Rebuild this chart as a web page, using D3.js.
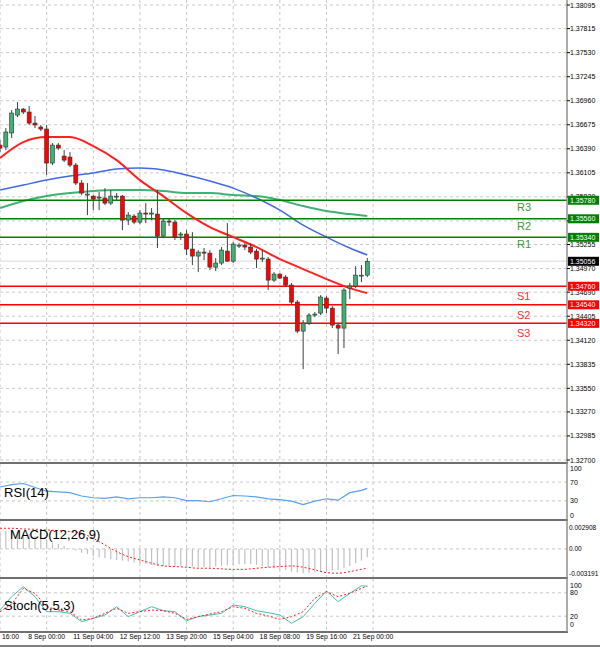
<!DOCTYPE html>
<html><head><meta charset="utf-8">
<script src="https://cdn.jsdelivr.net/npm/d3@7"></script>
<style>body{margin:0;background:#fff}svg{display:block;font-family:"Liberation Sans",Arial,sans-serif}</style>
</head><body><svg id="c" width="600" height="647"></svg>
<script>
// OHLC (4H candles)
const candles = [
[1.36434,1.36494,1.36351,1.36399],[1.36411,1.36636,1.36375,1.36589],[1.36577,1.36849,1.36517,1.36814],[1.36790,1.36944,1.36766,1.36861],
[1.36861,1.36873,1.36802,1.36826],[1.36826,1.36897,1.36672,1.36695],[1.36695,1.36778,1.36636,1.36672],[1.36648,1.36672,1.36600,1.36624],
[1.36624,1.36672,1.36079,1.36221],[1.36221,1.36458,1.36197,1.36434],[1.36434,1.36458,1.36375,1.36399],[1.36304,1.36375,1.36233,1.36256],
[1.36292,1.36351,1.36173,1.36197],[1.36197,1.36221,1.35960,1.35984],[1.35984,1.36019,1.35841,1.35865],[1.35841,1.35984,1.35604,1.35853],
[1.35829,1.35841,1.35663,1.35794],[1.35806,1.35877,1.35663,1.35818],[1.35806,1.35924,1.35723,1.35746],[1.35746,1.35901,1.35723,1.35829],
[1.35818,1.35865,1.35782,1.35829],[1.35829,1.35841,1.35426,1.35545],[1.35545,1.35640,1.35486,1.35604],[1.35592,1.35616,1.35497,1.35521],
[1.35521,1.35663,1.35497,1.35628],[1.35628,1.35746,1.35509,1.35616],[1.35616,1.35687,1.35545,1.35628],[1.35616,1.35901,1.35213,1.35355],
[1.35355,1.35569,1.35331,1.35533],[1.35533,1.35569,1.35474,1.35521],[1.35521,1.35545,1.35308,1.35343],[1.35367,1.35403,1.35308,1.35379],
[1.35379,1.35426,1.35130,1.35201],[1.35201,1.35403,1.35011,1.35118],[1.35118,1.35189,1.34928,1.35165],[1.35165,1.35213,1.35070,1.35153],
[1.35153,1.35189,1.34952,1.34987],[1.34987,1.35094,1.34940,1.35035],[1.35035,1.35225,1.35011,1.35189],[1.35177,1.35509,1.35047,1.35058],
[1.35058,1.35284,1.35035,1.35260],[1.35236,1.35272,1.35213,1.35248],[1.35248,1.35272,1.35189,1.35225],[1.35225,1.35272,1.35142,1.35165],
[1.35177,1.35201,1.34976,1.35082],[1.35082,1.35189,1.35047,1.35094],[1.35082,1.35106,1.34715,1.34833],[1.34833,1.34928,1.34810,1.34904],
[1.34904,1.34916,1.34845,1.34857],[1.34869,1.34892,1.34750,1.34774],[1.34774,1.34798,1.34549,1.34572],[1.34572,1.34596,1.34205,1.34228],
[1.34228,1.34359,1.33778,1.34323],[1.34323,1.34442,1.34300,1.34418],[1.34418,1.34454,1.34394,1.34430],[1.34442,1.34655,1.34418,1.34632],
[1.34620,1.34643,1.34442,1.34501],[1.34501,1.34525,1.34264,1.34300],[1.34300,1.34323,1.33956,1.34264],[1.34264,1.34738,1.34027,1.34715],
[1.34738,1.34798,1.34608,1.34762],[1.34762,1.34999,1.34738,1.34892],[1.34881,1.35011,1.34810,1.34892],[1.34892,1.35094,1.34869,1.35056]];
// moving averages sampled every 4 candles (last at 63)
const maIdx = [0,4,8,12,16,20,24,28,32,36,40,44,48,52,56,60,63];
const maRed = [1.36280,1.36470,1.36529,1.36529,1.36422,1.36256,1.36019,1.35829,1.35628,1.35462,1.35343,1.35225,1.35082,1.34964,1.34845,1.34738,1.34679];
const maBlue = [1.35901,1.35960,1.36019,1.36067,1.36102,1.36150,1.36161,1.36138,1.36079,1.36007,1.35924,1.35806,1.35663,1.35486,1.35343,1.35213,1.35130];
const maGreen = [1.35687,1.35770,1.35829,1.35865,1.35889,1.35901,1.35901,1.35889,1.35865,1.35865,1.35841,1.35829,1.35782,1.35711,1.35652,1.35616,1.35592];
const levels = [["R3",1.35780],["R2",1.35560],["R1",1.35340],["S1",1.34760],["S2",1.34540],["S3",1.34320]];
const lastPrice = 1.35056;
const priceTicks = ["1.38095","1.37815","1.37530","1.37245","1.36960","1.36675","1.36390","1.36105","1.35820","1.35535","1.35255","1.34970","1.34690","1.34405","1.34120","1.33835","1.33550","1.33270","1.32985","1.32700"];
// indicators sampled every 2 candles (last at 63)
const indIdx = [0,2,4,6,8,10,12,14,16,18,20,22,24,26,28,30,32,34,36,38,40,42,44,46,48,50,52,54,56,58,60,62,63];
const rsi = [59.6,64.5,67,58.5,50.6,49,47.6,40.4,36.7,35.5,38.5,34.5,36.7,36.7,38.5,36.7,30.6,30.6,28.2,34.5,41.5,40.4,38.5,34.5,32.7,29.4,22.2,29.4,34.5,31.6,47.6,52.5,56.7];
const macdSignal = [0.00274,0.00274,0.00265,0.00261,0.00252,0.00243,0.00230,0.00208,0.00141,0.00053,-0.00035,-0.00102,-0.00146,-0.0019,-0.00225,-0.00234,-0.00243,-0.00256,-0.00256,-0.00265,-0.0027,-0.0027,-0.00256,-0.00243,-0.00234,-0.00225,-0.00243,-0.00278,-0.00314,-0.00322,-0.00301,-0.0027,-0.00256];
const macdHist = [0.00230,0.00239,0.00243,0.00230,0.00217,0.00199,0.00172,0.00141,0.00119,0.00084,0.00066,0.00040,0.00009,-0.00022,-0.00049,-0.00066,
-0.00093,-0.00111,-0.00124,-0.00137,-0.00146,-0.00155,-0.00168,-0.00181,-0.0019,-0.00199,-0.00212,-0.00225,-0.00225,-0.00225,-0.00225,-0.00225,
-0.00234,-0.00234,-0.00243,-0.00243,-0.00243,-0.00234,-0.00225,-0.00217,-0.00212,-0.00203,-0.00199,-0.00199,-0.00212,-0.00225,-0.00243,-0.00256,
-0.0027,-0.00278,-0.00301,-0.00314,-0.00322,-0.00322,-0.00314,-0.00305,-0.00296,-0.00287,-0.00278,-0.00256,-0.00225,-0.0019,-0.00155,-0.00111];
const stochMain = [35.9,70.1,95.7,70.1,31.6,31.6,27.4,6,14.5,23.1,44.4,18.8,31.6,44.4,34.2,31.6,8.5,18.8,23.1,27.4,48.7,44.4,34.2,29.1,23.1,1.7,18.8,53,84.6,57.3,78.6,98,97];
const stochSignal = [31.6,51.3,91.5,78.6,44.4,35.9,31.6,10.3,14.5,27.4,40.2,27.4,31.6,35.9,34.2,27.4,12,18.8,25.6,31.6,44.4,40.2,27.4,20.5,12,18.8,31.6,65.8,82.9,70.1,78.6,91.5,97];
const timeIdx = [0,8,16,24,32,40,48,56,64];
const timeLabels = ["16:00","8 Sep 00:00","11 Sep 04:00","12 Sep 12:00","13 Sep 20:00","15 Sep 04:00","18 Sep 08:00","19 Sep 16:00","21 Sep 00:00"];

const svg = d3.select("#c");
const W = 567;
const x = d3.scaleLinear().domain([0,1]).range([0,5.83]);
const y = d3.scaleLinear().domain([1.32700,1.38095]).range([460,5]);
const yR = d3.scaleLinear().domain([0,100]).range([515,468]);
const yM = d3.scaleLinear().domain([-0.003191,0.002908]).range([573,527]);
const yS = d3.scaleLinear().domain([0,100]).range([624,585]);
const panels = [[0,462],[464,519],[521,577],[579,631]];
const dash = "3,3", gc = "#c8c8c8";

panels.forEach(([t,b])=>{
  timeIdx.forEach(i=>svg.append("line").attr("x1",x(i)).attr("x2",x(i)).attr("y1",t).attr("y2",b).attr("stroke",gc).attr("stroke-dasharray",dash));
});
priceTicks.forEach(t=>svg.append("line").attr("x1",0).attr("x2",W).attr("y1",y(+t)).attr("y2",y(+t)).attr("stroke",gc).attr("stroke-dasharray",dash));
[70,30].forEach(v=>svg.append("line").attr("x1",0).attr("x2",W).attr("y1",yR(v)).attr("y2",yR(v)).attr("stroke",gc).attr("stroke-dasharray",dash));
svg.append("line").attr("x1",0).attr("x2",W).attr("y1",yM(0)).attr("y2",yM(0)).attr("stroke",gc).attr("stroke-dasharray",dash);
[80,20].forEach(v=>svg.append("line").attr("x1",0).attr("x2",W).attr("y1",yS(v)).attr("y2",yS(v)).attr("stroke",gc).attr("stroke-dasharray",dash));

svg.append("line").attr("x1",0).attr("x2",W).attr("y1",y(lastPrice)).attr("y2",y(lastPrice)).attr("stroke","#e6e6e6").attr("stroke-width",1.5);

const maLine = arr => d3.line().x((d,k)=>x(maIdx[k])).y(d=>y(d)).curve(d3.curveMonotoneX)(arr);
svg.append("path").attr("d",maLine(maGreen)).attr("fill","none").attr("stroke","#3cb371").attr("stroke-width",2);
svg.append("path").attr("d",maLine(maBlue)).attr("fill","none").attr("stroke","#4169e1").attr("stroke-width",1.5);

levels.forEach(([n,v])=>{
  const col = n[0]==="R" ? "#008000" : "#ff0000";
  svg.append("line").attr("x1",0).attr("x2",W).attr("y1",y(v)).attr("y2",y(v)).attr("stroke",col).attr("stroke-width",1.5);
  svg.append("text").attr("x",517).attr("y", n[0]==="R"? y(v)+11 : y(v)+14).attr("font-size",11)
    .attr("fill", n[0]==="R" ? "#3a9a3a" : "#ff3030").text(n);
});

svg.append("path").attr("d",maLine(maRed)).attr("fill","none").attr("stroke","#ff2020").attr("stroke-width",2);

const cg = svg.append("g");
candles.forEach((c,i)=>{
  const [o,h,l,cl] = c, up = cl>=o;
  cg.append("line").attr("x1",x(i)).attr("x2",x(i)).attr("y1",y(h)).attr("y2",y(l)).attr("stroke","#404040");
  const top = y(Math.max(o,cl)), bot = y(Math.min(o,cl));
  cg.append("rect").attr("x",x(i)-2).attr("y",top).attr("width",4).attr("height",Math.max(1,bot-top))
    .attr("fill", up ? "#3cb371" : "#ff0000").attr("stroke","#303030").attr("stroke-width",0.6);
});

svg.append("path").attr("d",d3.line().x((d,k)=>x(indIdx[k])).y(d=>yR(d))(rsi)).attr("fill","none").attr("stroke","#5aa0f0").attr("stroke-width",1.2);
macdHist.forEach((v,i)=>svg.append("line").attr("x1",x(i)).attr("x2",x(i)).attr("y1",yM(0)).attr("y2",yM(v)).attr("stroke","#c0c0c0").attr("stroke-width",1.2));
svg.append("path").attr("d",d3.line().x((d,k)=>x(indIdx[k])).y(d=>yM(d)).curve(d3.curveMonotoneX)(macdSignal)).attr("fill","none").attr("stroke","#ff2020").attr("stroke-dasharray","2,2");
svg.append("path").attr("d",d3.line().x((d,k)=>x(indIdx[k])).y(d=>yS(d))(stochMain)).attr("fill","none").attr("stroke","#40c0b0").attr("stroke-width",1);
svg.append("path").attr("d",d3.line().x((d,k)=>x(indIdx[k])).y(d=>yS(d))(stochSignal)).attr("fill","none").attr("stroke","#ff2020").attr("stroke-dasharray","2,2");

[463,520,578,632].forEach(v=>svg.append("line").attr("x1",0).attr("x2",W+1).attr("y1",v).attr("y2",v).attr("stroke","#707070").attr("stroke-width",2));
svg.append("line").attr("x1",W).attr("x2",W).attr("y1",0).attr("y2",632).attr("stroke","#909090").attr("stroke-width",1.5);

svg.append("text").attr("x",4).attr("y",497).attr("font-size",13).text("RSI(14)");
svg.append("text").attr("x",10).attr("y",539).attr("font-size",13).text("MACD(12,26,9)");
svg.append("text").attr("x",4).attr("y",610).attr("font-size",13).text("Stoch(5,5,3)");

const ax = svg.append("g").attr("font-size",7).attr("fill","#000");
priceTicks.forEach(t=>{
  ax.append("line").attr("x1",W).attr("x2",W+3).attr("y1",y(+t)).attr("y2",y(+t)).attr("stroke","#000");
  ax.append("text").attr("x",570).attr("y",y(+t)+2.5).text(t);
});
levels.forEach(([n,v])=>{
  const col = n[0]==="R" ? "#008000" : "#ff0000";
  ax.append("rect").attr("x",568).attr("y",y(v)-4.5).attr("width",31).attr("height",9).attr("fill",col);
  ax.append("text").attr("x",570).attr("y",y(v)+2.5).attr("fill","#fff").text(v.toFixed(5));
});
ax.append("rect").attr("x",568).attr("y",y(lastPrice)-4.5).attr("width",31).attr("height",9).attr("fill","#000");
ax.append("text").attr("x",570).attr("y",y(lastPrice)+2.5).attr("fill","#fff").text(lastPrice.toFixed(5));
[[100,"100"],[70,"70"],[30,"30"],[0,"0"]].forEach(([v,t])=>ax.append("text").attr("x",570).attr("y",yR(v)+2.5).text(t));
[[0.002908,"0.002908"],[0,"0.00"],[-0.003191,"-0.003191"]].forEach(([v,t])=>ax.append("text").attr("x",569).attr("y",yM(v)+2.5).attr("font-size",6.5).text(t));
[[100,"100"],[80,"80"],[20,"20"],[0,"0"]].forEach(([v,t])=>ax.append("text").attr("x",570).attr("y",yS(v)+2.5).text(t));

timeIdx.forEach((i,k)=>svg.append("text").attr("x",k===0?2:x(i)).attr("y",639).attr("font-size",6.8)
  .attr("text-anchor",k===0?"start":"middle").text(timeLabels[k]));
svg.append("line").attr("x1",0).attr("x2",600).attr("y1",646).attr("y2",646).attr("stroke","#808080").attr("stroke-width",2);
</script></body></html>
